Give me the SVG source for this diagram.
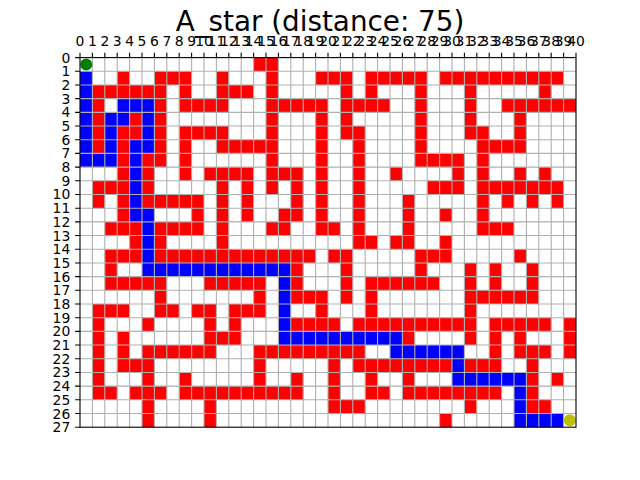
<svg xmlns="http://www.w3.org/2000/svg" width="640" height="480" viewBox="0 0 640 480">
<style>
.r{fill:#ff0000}
.b{fill:#0000ff}
.grid{stroke:#b0b0b0;stroke-width:1.1;fill:none}
.tick{stroke:#000;stroke-width:1.1;fill:none}
.lbl{font-family:"DejaVu Sans",sans-serif;font-size:13.9px;fill:#000}
.xl{text-anchor:middle}
.yl{text-anchor:end}
.title{font-family:"DejaVu Sans",sans-serif;font-size:27.8px;text-anchor:middle;fill:#000}
</style>
<rect x="0" y="0" width="640" height="480" fill="#fff"/>
<text class="title" x="320" y="31">A_star (distance: 75)</text>
<g id="cells" transform="translate(80,57.6) scale(12.4,13.68889)">
<g id="walls" class="r">
<rect x="14" y="0" width="2" height="1"/>
<rect x="3" y="1" width="1" height="1"/><rect x="6" y="1" width="3" height="1"/><rect x="11" y="1" width="1" height="1"/><rect x="15" y="1" width="1" height="1"/><rect x="19" y="1" width="3" height="1"/><rect x="23" y="1" width="5" height="1"/><rect x="29" y="1" width="10" height="1"/>
<rect x="1" y="2" width="6" height="1"/><rect x="8" y="2" width="1" height="1"/><rect x="11" y="2" width="3" height="1"/><rect x="15" y="2" width="1" height="1"/><rect x="21" y="2" width="1" height="1"/><rect x="23" y="2" width="1" height="1"/><rect x="27" y="2" width="1" height="1"/><rect x="31" y="2" width="1" height="1"/><rect x="37" y="2" width="1" height="1"/>
<rect x="1" y="3" width="1" height="1"/><rect x="6" y="3" width="1" height="1"/><rect x="8" y="3" width="4" height="1"/><rect x="15" y="3" width="5" height="1"/><rect x="21" y="3" width="4" height="1"/><rect x="27" y="3" width="1" height="1"/><rect x="31" y="3" width="1" height="1"/><rect x="34" y="3" width="6" height="1"/>
<rect x="1" y="4" width="1" height="1"/><rect x="4" y="4" width="1" height="1"/><rect x="6" y="4" width="1" height="1"/><rect x="15" y="4" width="1" height="1"/><rect x="19" y="4" width="1" height="1"/><rect x="21" y="4" width="1" height="1"/><rect x="27" y="4" width="1" height="1"/><rect x="31" y="4" width="1" height="1"/><rect x="35" y="4" width="1" height="1"/>
<rect x="1" y="5" width="1" height="1"/><rect x="3" y="5" width="2" height="1"/><rect x="6" y="5" width="1" height="1"/><rect x="8" y="5" width="4" height="1"/><rect x="15" y="5" width="1" height="1"/><rect x="19" y="5" width="1" height="1"/><rect x="21" y="5" width="2" height="1"/><rect x="27" y="5" width="1" height="1"/><rect x="31" y="5" width="2" height="1"/><rect x="35" y="5" width="1" height="1"/>
<rect x="1" y="6" width="1" height="1"/><rect x="3" y="6" width="1" height="1"/><rect x="6" y="6" width="1" height="1"/><rect x="8" y="6" width="1" height="1"/><rect x="11" y="6" width="5" height="1"/><rect x="19" y="6" width="1" height="1"/><rect x="22" y="6" width="1" height="1"/><rect x="27" y="6" width="1" height="1"/><rect x="32" y="6" width="4" height="1"/>
<rect x="3" y="7" width="1" height="1"/><rect x="5" y="7" width="2" height="1"/><rect x="8" y="7" width="1" height="1"/><rect x="15" y="7" width="1" height="1"/><rect x="19" y="7" width="1" height="1"/><rect x="22" y="7" width="1" height="1"/><rect x="27" y="7" width="4" height="1"/><rect x="32" y="7" width="1" height="1"/>
<rect x="3" y="8" width="1" height="1"/><rect x="5" y="8" width="1" height="1"/><rect x="8" y="8" width="1" height="1"/><rect x="10" y="8" width="4" height="1"/><rect x="15" y="8" width="3" height="1"/><rect x="19" y="8" width="1" height="1"/><rect x="22" y="8" width="1" height="1"/><rect x="25" y="8" width="1" height="1"/><rect x="30" y="8" width="1" height="1"/><rect x="32" y="8" width="1" height="1"/><rect x="35" y="8" width="1" height="1"/><rect x="37" y="8" width="1" height="1"/>
<rect x="1" y="9" width="3" height="1"/><rect x="5" y="9" width="1" height="1"/><rect x="11" y="9" width="1" height="1"/><rect x="13" y="9" width="1" height="1"/><rect x="15" y="9" width="1" height="1"/><rect x="17" y="9" width="1" height="1"/><rect x="19" y="9" width="1" height="1"/><rect x="22" y="9" width="1" height="1"/><rect x="28" y="9" width="3" height="1"/><rect x="32" y="9" width="7" height="1"/>
<rect x="1" y="10" width="1" height="1"/><rect x="3" y="10" width="1" height="1"/><rect x="5" y="10" width="5" height="1"/><rect x="11" y="10" width="1" height="1"/><rect x="13" y="10" width="1" height="1"/><rect x="17" y="10" width="1" height="1"/><rect x="19" y="10" width="1" height="1"/><rect x="22" y="10" width="1" height="1"/><rect x="26" y="10" width="1" height="1"/><rect x="32" y="10" width="1" height="1"/><rect x="34" y="10" width="1" height="1"/><rect x="36" y="10" width="1" height="1"/><rect x="38" y="10" width="1" height="1"/>
<rect x="3" y="11" width="1" height="1"/><rect x="9" y="11" width="1" height="1"/><rect x="11" y="11" width="1" height="1"/><rect x="13" y="11" width="1" height="1"/><rect x="16" y="11" width="2" height="1"/><rect x="19" y="11" width="1" height="1"/><rect x="22" y="11" width="1" height="1"/><rect x="26" y="11" width="1" height="1"/><rect x="29" y="11" width="1" height="1"/><rect x="32" y="11" width="1" height="1"/>
<rect x="2" y="12" width="3" height="1"/><rect x="6" y="12" width="4" height="1"/><rect x="11" y="12" width="1" height="1"/><rect x="15" y="12" width="2" height="1"/><rect x="19" y="12" width="2" height="1"/><rect x="22" y="12" width="1" height="1"/><rect x="26" y="12" width="1" height="1"/><rect x="32" y="12" width="3" height="1"/>
<rect x="4" y="13" width="1" height="1"/><rect x="6" y="13" width="1" height="1"/><rect x="11" y="13" width="1" height="1"/><rect x="22" y="13" width="2" height="1"/><rect x="25" y="13" width="2" height="1"/><rect x="29" y="13" width="1" height="1"/>
<rect x="2" y="14" width="3" height="1"/><rect x="6" y="14" width="13" height="1"/><rect x="20" y="14" width="2" height="1"/><rect x="27" y="14" width="3" height="1"/><rect x="35" y="14" width="1" height="1"/>
<rect x="2" y="15" width="1" height="1"/><rect x="17" y="15" width="1" height="1"/><rect x="21" y="15" width="1" height="1"/><rect x="27" y="15" width="1" height="1"/><rect x="31" y="15" width="1" height="1"/><rect x="33" y="15" width="1" height="1"/><rect x="36" y="15" width="1" height="1"/>
<rect x="2" y="16" width="5" height="1"/><rect x="10" y="16" width="5" height="1"/><rect x="17" y="16" width="1" height="1"/><rect x="21" y="16" width="1" height="1"/><rect x="23" y="16" width="6" height="1"/><rect x="31" y="16" width="1" height="1"/><rect x="33" y="16" width="1" height="1"/><rect x="36" y="16" width="1" height="1"/>
<rect x="6" y="17" width="1" height="1"/><rect x="14" y="17" width="1" height="1"/><rect x="17" y="17" width="3" height="1"/><rect x="21" y="17" width="1" height="1"/><rect x="23" y="17" width="1" height="1"/><rect x="31" y="17" width="6" height="1"/>
<rect x="1" y="18" width="3" height="1"/><rect x="6" y="18" width="2" height="1"/><rect x="9" y="18" width="2" height="1"/><rect x="12" y="18" width="3" height="1"/><rect x="19" y="18" width="1" height="1"/><rect x="23" y="18" width="1" height="1"/><rect x="31" y="18" width="1" height="1"/>
<rect x="1" y="19" width="1" height="1"/><rect x="5" y="19" width="1" height="1"/><rect x="10" y="19" width="1" height="1"/><rect x="12" y="19" width="1" height="1"/><rect x="17" y="19" width="4" height="1"/><rect x="22" y="19" width="10" height="1"/><rect x="33" y="19" width="5" height="1"/><rect x="39" y="19" width="1" height="1"/>
<rect x="1" y="20" width="1" height="1"/><rect x="3" y="20" width="1" height="1"/><rect x="10" y="20" width="3" height="1"/><rect x="26" y="20" width="1" height="1"/><rect x="31" y="20" width="1" height="1"/><rect x="33" y="20" width="1" height="1"/><rect x="35" y="20" width="1" height="1"/><rect x="39" y="20" width="1" height="1"/>
<rect x="1" y="21" width="1" height="1"/><rect x="3" y="21" width="1" height="1"/><rect x="5" y="21" width="6" height="1"/><rect x="14" y="21" width="9" height="1"/><rect x="33" y="21" width="1" height="1"/><rect x="35" y="21" width="3" height="1"/><rect x="39" y="21" width="1" height="1"/>
<rect x="1" y="22" width="1" height="1"/><rect x="3" y="22" width="3" height="1"/><rect x="14" y="22" width="1" height="1"/><rect x="20" y="22" width="1" height="1"/><rect x="22" y="22" width="8" height="1"/><rect x="31" y="22" width="3" height="1"/><rect x="36" y="22" width="1" height="1"/>
<rect x="1" y="23" width="1" height="1"/><rect x="5" y="23" width="1" height="1"/><rect x="8" y="23" width="1" height="1"/><rect x="14" y="23" width="1" height="1"/><rect x="17" y="23" width="1" height="1"/><rect x="20" y="23" width="1" height="1"/><rect x="23" y="23" width="1" height="1"/><rect x="26" y="23" width="1" height="1"/><rect x="36" y="23" width="1" height="1"/><rect x="38" y="23" width="1" height="1"/>
<rect x="1" y="24" width="2" height="1"/><rect x="4" y="24" width="3" height="1"/><rect x="8" y="24" width="10" height="1"/><rect x="20" y="24" width="1" height="1"/><rect x="23" y="24" width="2" height="1"/><rect x="26" y="24" width="8" height="1"/><rect x="36" y="24" width="1" height="1"/>
<rect x="5" y="25" width="1" height="1"/><rect x="10" y="25" width="1" height="1"/><rect x="20" y="25" width="3" height="1"/><rect x="31" y="25" width="1" height="1"/><rect x="36" y="25" width="2" height="1"/>
<rect x="5" y="26" width="1" height="1"/><rect x="10" y="26" width="1" height="1"/><rect x="29" y="26" width="1" height="1"/>
</g>
<g id="path" class="b">
<rect x="0" y="1" width="1" height="7"/><rect x="1" y="7" width="2" height="1"/><rect x="2" y="4" width="1" height="3"/><rect x="3" y="4" width="1" height="1"/><rect x="3" y="3" width="3" height="1"/><rect x="5" y="4" width="1" height="3"/><rect x="4" y="6" width="1" height="1"/><rect x="4" y="7" width="1" height="5"/><rect x="5" y="11" width="1" height="5"/><rect x="6" y="15" width="11" height="1"/><rect x="16" y="16" width="1" height="5"/><rect x="17" y="20" width="9" height="1"/><rect x="25" y="21" width="6" height="1"/><rect x="30" y="22" width="1" height="2"/><rect x="31" y="23" width="5" height="1"/><rect x="35" y="24" width="1" height="3"/><rect x="36" y="26" width="3" height="1"/>
</g>
</g>
<path id="gridlines" class="grid" d="M92.4 57.6V427.2M104.8 57.6V427.2M117.2 57.6V427.2M129.6 57.6V427.2M142 57.6V427.2M154.4 57.6V427.2M166.8 57.6V427.2M179.2 57.6V427.2M191.6 57.6V427.2M204 57.6V427.2M216.4 57.6V427.2M228.8 57.6V427.2M241.2 57.6V427.2M253.6 57.6V427.2M266 57.6V427.2M278.4 57.6V427.2M290.8 57.6V427.2M303.2 57.6V427.2M315.6 57.6V427.2M328 57.6V427.2M340.4 57.6V427.2M352.8 57.6V427.2M365.2 57.6V427.2M377.6 57.6V427.2M390 57.6V427.2M402.4 57.6V427.2M414.8 57.6V427.2M427.2 57.6V427.2M439.6 57.6V427.2M452 57.6V427.2M464.4 57.6V427.2M476.8 57.6V427.2M489.2 57.6V427.2M501.6 57.6V427.2M514 57.6V427.2M526.4 57.6V427.2M538.8 57.6V427.2M551.2 57.6V427.2M563.6 57.6V427.2M80 71.29H576M80 84.98H576M80 98.67H576M80 112.36H576M80 126.04H576M80 139.73H576M80 153.42H576M80 167.11H576M80 180.8H576M80 194.49H576M80 208.18H576M80 221.87H576M80 235.56H576M80 249.24H576M80 262.93H576M80 276.62H576M80 290.31H576M80 304H576M80 317.69H576M80 331.38H576M80 345.07H576M80 358.76H576M80 372.44H576M80 386.13H576M80 399.82H576M80 413.51H576"/>
<g id="markers">
<circle id="start" cx="86.2" cy="64.44" r="6" fill="#008000"/>
<circle id="goal" cx="569.8" cy="420.36" r="6" fill="#bfbf00"/>
</g>
<g id="axes">
<rect x="80" y="57.6" width="496" height="369.6" fill="none" stroke="#000" stroke-width="1.1"/>
<path class="tick" d="M80 57.6V52.7M92.4 57.6V52.7M104.8 57.6V52.7M117.2 57.6V52.7M129.6 57.6V52.7M142 57.6V52.7M154.4 57.6V52.7M166.8 57.6V52.7M179.2 57.6V52.7M191.6 57.6V52.7M204 57.6V52.7M216.4 57.6V52.7M228.8 57.6V52.7M241.2 57.6V52.7M253.6 57.6V52.7M266 57.6V52.7M278.4 57.6V52.7M290.8 57.6V52.7M303.2 57.6V52.7M315.6 57.6V52.7M328 57.6V52.7M340.4 57.6V52.7M352.8 57.6V52.7M365.2 57.6V52.7M377.6 57.6V52.7M390 57.6V52.7M402.4 57.6V52.7M414.8 57.6V52.7M427.2 57.6V52.7M439.6 57.6V52.7M452 57.6V52.7M464.4 57.6V52.7M476.8 57.6V52.7M489.2 57.6V52.7M501.6 57.6V52.7M514 57.6V52.7M526.4 57.6V52.7M538.8 57.6V52.7M551.2 57.6V52.7M563.6 57.6V52.7M576 57.6V52.7M80 57.6H75.1M80 71.29H75.1M80 84.98H75.1M80 98.67H75.1M80 112.36H75.1M80 126.04H75.1M80 139.73H75.1M80 153.42H75.1M80 167.11H75.1M80 180.8H75.1M80 194.49H75.1M80 208.18H75.1M80 221.87H75.1M80 235.56H75.1M80 249.24H75.1M80 262.93H75.1M80 276.62H75.1M80 290.31H75.1M80 304H75.1M80 317.69H75.1M80 331.38H75.1M80 345.07H75.1M80 358.76H75.1M80 372.44H75.1M80 386.13H75.1M80 399.82H75.1M80 413.51H75.1M80 427.2H75.1"/>
</g>
<g id="xlabels" class="lbl xl">
<text x="80" y="45.5">0</text><text x="92.4" y="45.5">1</text><text x="104.8" y="45.5">2</text><text x="117.2" y="45.5">3</text><text x="129.6" y="45.5">4</text><text x="142" y="45.5">5</text><text x="154.4" y="45.5">6</text><text x="166.8" y="45.5">7</text><text x="179.2" y="45.5">8</text><text x="191.6" y="45.5">9</text><text x="204" y="45.5">10</text><text x="216.4" y="45.5">11</text><text x="228.8" y="45.5">12</text><text x="241.2" y="45.5">13</text><text x="253.6" y="45.5">14</text><text x="266" y="45.5">15</text><text x="278.4" y="45.5">16</text><text x="290.8" y="45.5">17</text><text x="303.2" y="45.5">18</text><text x="315.6" y="45.5">19</text><text x="328" y="45.5">20</text><text x="340.4" y="45.5">21</text><text x="352.8" y="45.5">22</text><text x="365.2" y="45.5">23</text><text x="377.6" y="45.5">24</text><text x="390" y="45.5">25</text><text x="402.4" y="45.5">26</text><text x="414.8" y="45.5">27</text><text x="427.2" y="45.5">28</text><text x="439.6" y="45.5">29</text><text x="452" y="45.5">30</text><text x="464.4" y="45.5">31</text><text x="476.8" y="45.5">32</text><text x="489.2" y="45.5">33</text><text x="501.6" y="45.5">34</text><text x="514" y="45.5">35</text><text x="526.4" y="45.5">36</text><text x="538.8" y="45.5">37</text><text x="551.2" y="45.5">38</text><text x="563.6" y="45.5">39</text><text x="576" y="45.5">40</text>
</g>
<g id="ylabels" class="lbl yl">
<text x="70.3" y="62.6">0</text><text x="70.3" y="76.29">1</text><text x="70.3" y="89.98">2</text><text x="70.3" y="103.67">3</text><text x="70.3" y="117.36">4</text><text x="70.3" y="131.04">5</text><text x="70.3" y="144.73">6</text><text x="70.3" y="158.42">7</text><text x="70.3" y="172.11">8</text><text x="70.3" y="185.8">9</text><text x="70.3" y="199.49">10</text><text x="70.3" y="213.18">11</text><text x="70.3" y="226.87">12</text><text x="70.3" y="240.56">13</text><text x="70.3" y="254.24">14</text><text x="70.3" y="267.93">15</text><text x="70.3" y="281.62">16</text><text x="70.3" y="295.31">17</text><text x="70.3" y="309">18</text><text x="70.3" y="322.69">19</text><text x="70.3" y="336.38">20</text><text x="70.3" y="350.07">21</text><text x="70.3" y="363.76">22</text><text x="70.3" y="377.44">23</text><text x="70.3" y="391.13">24</text><text x="70.3" y="404.82">25</text><text x="70.3" y="418.51">26</text><text x="70.3" y="432.2">27</text>
</g>
</svg>
